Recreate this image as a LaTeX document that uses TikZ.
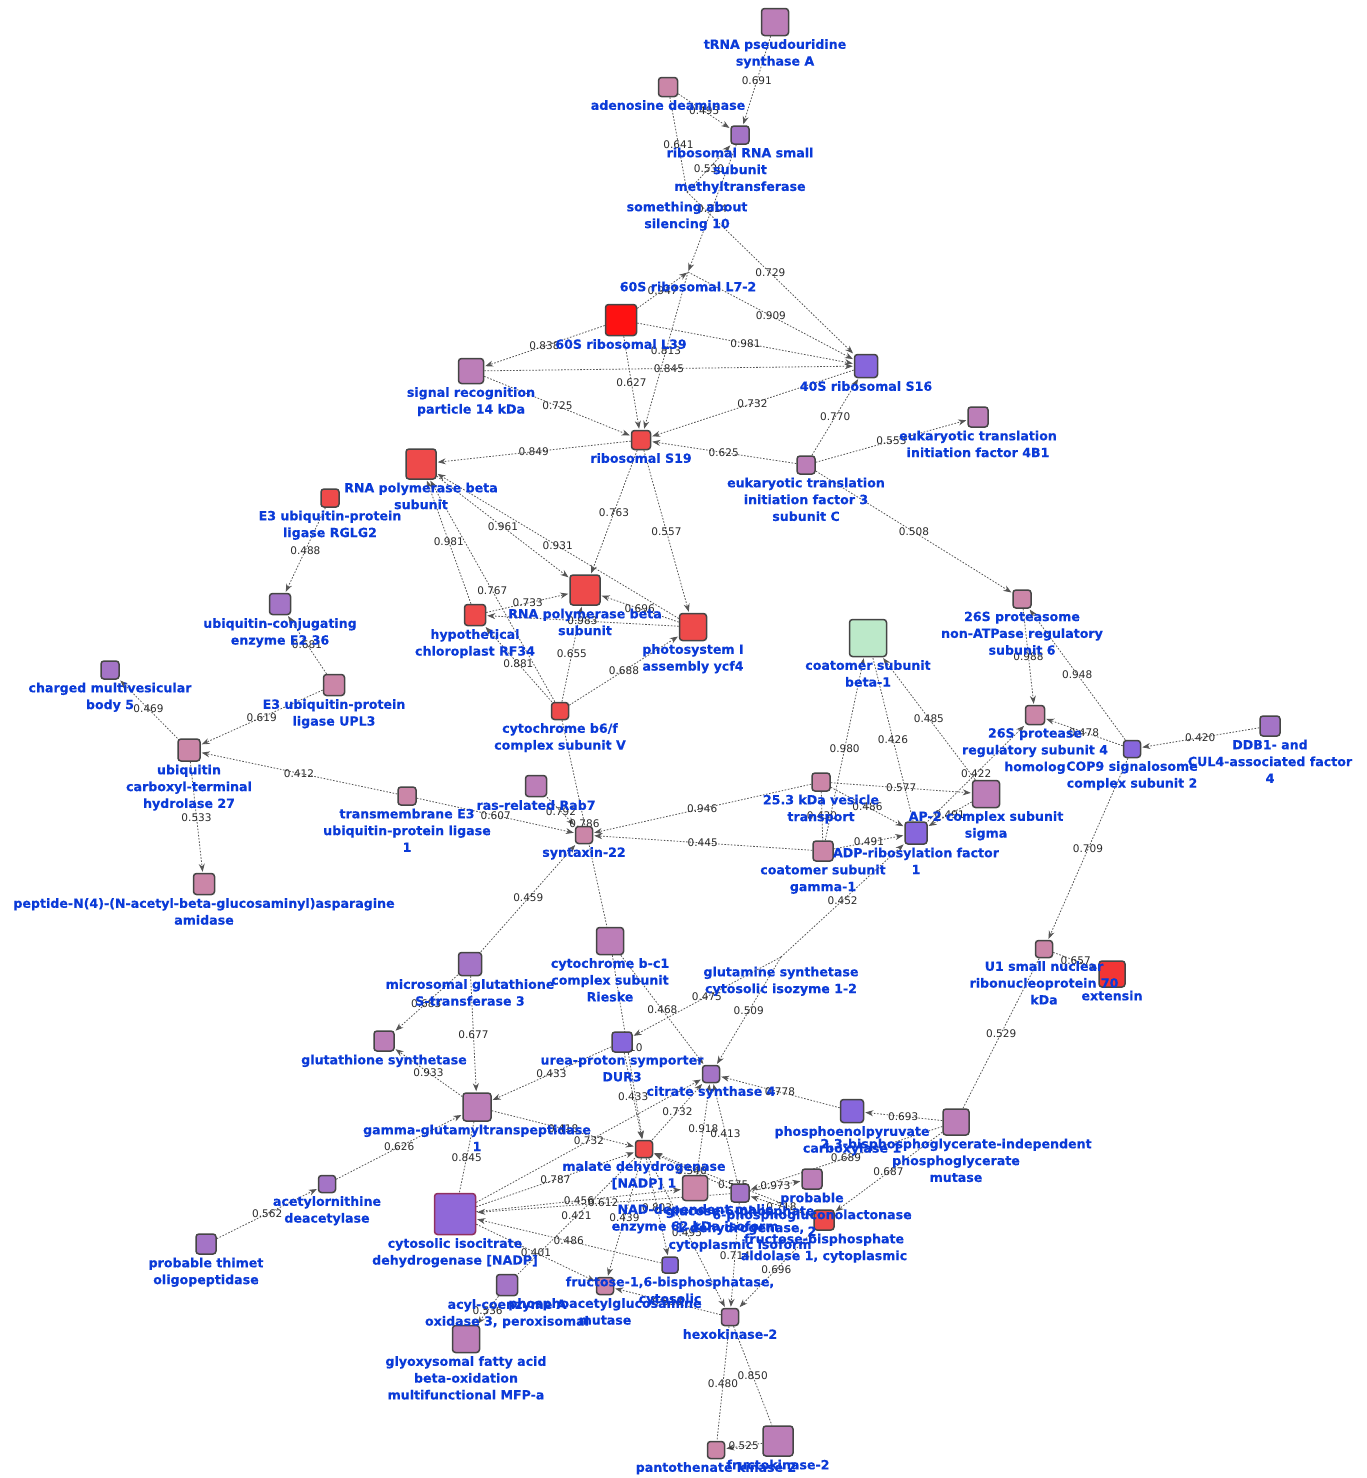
\documentclass[tikz,border=0pt]{standalone}
\usepackage{fontspec}
\setmainfont{DejaVu Sans}
\newfontfamily\labfont{DejaVu Sans}[BoldFeatures={FakeBold=0.35}]
\usetikzlibrary{arrows.meta}
\definecolor{nblue}{HTML}{0A3AD8}
\definecolor{elabc}{HTML}{2A2A2A}
\definecolor{edgec}{HTML}{555555}
\definecolor{bordc}{HTML}{454545}
\definecolor{mauve}{HTML}{BC7EB8}
\definecolor{pink}{HTML}{CB86A8}
\definecolor{purple}{HTML}{A474C6}
\definecolor{violet}{HTML}{8766DC}
\definecolor{violetb}{HTML}{9068D8}
\definecolor{icbord}{HTML}{903060}
\definecolor{red}{HTML}{EE4A4A}
\definecolor{bred}{HTML}{FF1111}
\definecolor{exred}{HTML}{F23535}
\definecolor{green}{HTML}{BCE9C9}
\pgfdeclarelayer{bgfill}
\pgfdeclarelayer{edges}
\pgfdeclarelayer{labels}
\pgfsetlayers{bgfill,edges,main,labels}
\tikzset{
 box/.style={rectangle, draw=bordc, line width=1.5pt, rounded corners=3pt, inner sep=0pt, minimum size=#1},
 nlab/.style={text=nblue, font=\labfont\bfseries\fontsize{12.6}{16.8}\selectfont, align=center, inner sep=0pt, anchor=north},
 elab/.style={text=elabc, font=\fontsize{10.5}{12}\selectfont, inner sep=0pt, midway},
 con/.style={draw=edgec, line width=0.8pt, dash pattern=on 1.6pt off 1.6pt},
 arr/.style={con, -{Stealth[length=8pt,width=6pt]}, shorten >=1pt},
}
\newcommand\Nd[6]{%
 \node[box=#4pt, #5] (#1) at (#2,#3) {};%
 \begin{pgfonlayer}{labels}\node[nlab] (#1l) at (#2,{#3+#4/2+3.5}) {#6};\end{pgfonlayer}}
\newcommand\Nh[4]{%
 \coordinate (#1) at (#2,#3);%
 \begin{pgfonlayer}{labels}\node[nlab] (#1l) at (#2,{#3+9.5}) {#4};\end{pgfonlayer}}
\newcommand\E[3]{\draw[arr] (#1) -- node[elab]{#3} (#2);}
\newcommand\U[3]{\draw[con] (#1) -- node[elab]{#3} (#2);}
\begin{document}
\begin{tikzpicture}[x=1pt,y=-1pt]
\begin{pgfonlayer}{bgfill}
\path[use as bounding box, fill=white] (0,0) rectangle (1366,1478);
\end{pgfonlayer}
\Nd{trna}{775}{22}{27}{fill=mauve}{tRNA pseudouridine\\synthase A}
\Nd{aden}{668}{87}{19}{fill=pink}{adenosine deaminase}
\Nd{methyl}{740}{135}{18}{fill=purple}{ribosomal RNA small\\subunit\\methyltransferase}
\Nh{silen}{687}{192}{something about\\silencing 10}
\Nh{lsev}{688}{272}{60S ribosomal L7-2}
\Nd{lnine}{621}{320}{31}{fill=bred}{60S ribosomal L39}
\Nd{srp}{471}{371}{25}{fill=mauve}{signal recognition\\particle 14 kDa}
\Nd{ssix}{866}{366}{23}{fill=violet}{40S ribosomal S16}
\Nd{snine}{641}{440}{19}{fill=red}{ribosomal S19}
\Nd{polA}{421}{464}{30}{fill=red}{RNA polymerase beta\\subunit}
\Nd{rglg}{330}{498}{18}{fill=red}{E3 ubiquitin-protein\\ligase RGLG2}
\Nd{etwo}{280}{604}{21}{fill=purple}{ubiquitin-conjugating\\enzyme E2 36}
\Nd{upl}{334}{685}{21}{fill=pink}{E3 ubiquitin-protein\\ligase UPL3}
\Nd{cmb}{110}{670}{18}{fill=purple}{charged multivesicular\\body 5}
\Nd{uch}{189}{750}{22}{fill=pink}{ubiquitin\\carboxyl-terminal\\hydrolase 27}
\Nd{pepn}{204}{884}{21}{fill=pink}{peptide-N(4)-(N-acetyl-beta-glucosaminyl)asparagine\\amidase}
\Nd{tme}{407}{796}{18}{fill=pink}{transmembrane E3\\ubiquitin-protein ligase\\1}
\Nd{rfx}{475}{615}{21}{fill=red}{hypothetical\\chloroplast RF34}
\Nd{polB}{585}{590}{30}{fill=red}{RNA polymerase beta\\subunit}
\Nd{psi}{693}{627}{27}{fill=red}{photosystem I\\assembly ycf4}
\Nd{bsf}{560}{711}{17}{fill=red}{cytochrome b6/f\\complex subunit V}
\Nd{eifc}{806}{465}{18}{fill=mauve}{eukaryotic translation\\initiation factor 3\\subunit C}
\Nd{eifb}{978}{417}{20}{fill=mauve}{eukaryotic translation\\initiation factor 4B1}
\Nd{psix}{1022}{599}{18}{fill=pink}{26S proteasome\\non-ATPase regulatory\\subunit 6}
\Nd{copb}{868}{638}{37}{fill=green}{coatomer subunit\\beta-1}
\Nd{pfour}{1035}{715}{19}{fill=pink}{26S protease\\regulatory subunit 4\\homolog}
\Nd{cop}{1132}{749}{17}{fill=violet}{COP9 signalosome\\complex subunit 2}
\Nd{ddb}{1270}{726}{20}{fill=purple}{DDB1- and\\CUL4-associated factor\\4}
\Nd{ves}{821}{782}{18}{fill=pink}{25.3 kDa vesicle\\transport}
\Nd{aptwo}{986}{794}{27}{fill=mauve}{AP-2 complex subunit\\sigma}
\Nd{arf}{916}{833}{22}{fill=violet}{ADP-ribosylation factor\\1}
\Nd{copg}{823}{851}{20}{fill=pink}{coatomer subunit\\gamma-1}
\Nd{uone}{1044}{949}{17}{fill=pink}{U1 small nuclear\\ribonucleoprotein 70\\kDa}
\Nd{ext}{1112}{974}{26}{fill=exred}{extensin}
\Nd{rab}{536}{786}{21}{fill=mauve}{ras-related Rab7}
\Nd{stx}{584}{835}{17}{fill=pink}{syntaxin-22}
\Nd{mgst}{470}{964}{23}{fill=purple}{microsomal glutathione\\S-transferase 3}
\Nd{rsk}{610}{941}{27}{fill=mauve}{cytochrome b-c1\\complex subunit\\Rieske}
\Nh{gsyn}{781}{957}{glutamine synthetase\\cytosolic isozyme 1-2}
\Nd{gshs}{384}{1041}{20}{fill=mauve}{glutathione synthetase}
\Nd{ggt}{477}{1107}{28}{fill=mauve}{gamma-glutamyltranspeptidase\\1}
\Nd{urea}{622}{1042}{20}{fill=violet}{urea-proton symporter\\DUR3}
\Nd{csf}{711}{1074}{17}{fill=purple}{citrate synthase 4}
\Nd{mdh}{644}{1149}{17}{fill=red}{malate dehydrogenase\\{}[NADP] 1}
\Nd{aod}{327}{1184}{17}{fill=purple}{acetylornithine\\deacetylase}
\Nd{thim}{206}{1244}{20}{fill=purple}{probable thimet\\oligopeptidase}
\Nd{icdh}{455}{1214}{41}{fill=violetb,draw=icbord}{cytosolic isocitrate\\dehydrogenase [NADP]}
\Nd{nadme}{695}{1188}{25}{fill=pink}{NAD-dependent malic\\enzyme 62 kDa isoform}
\Nd{pgl}{812}{1179}{20}{fill=mauve}{probable\\6-phosphogluconolactonase\\2}
\Nd{gsix}{740}{1193}{18}{fill=purple}{glucose-6-phosphate\\1-dehydrogenase,\\cytoplasmic isoform}
\Nd{ald}{824}{1220}{20}{fill=red}{fructose-bisphosphate\\aldolase 1, cytoplasmic}
\Nd{pepc}{852}{1111}{23}{fill=violet}{phosphoenolpyruvate\\carboxylase 1}
\Nd{pgm}{956}{1122}{26}{fill=mauve}{2,3-bisphosphoglycerate-independent\\phosphoglycerate\\mutase}
\Nd{fbp}{670}{1265}{16}{fill=violet}{fructose-1,6-bisphosphatase,\\cytosolic}
\Nd{pagm}{605}{1286}{17}{fill=pink}{phosphoacetylglucosamine\\mutase}
\Nd{acox}{507}{1285}{21}{fill=purple}{acyl-coenzyme A\\oxidase 3, peroxisomal}
\Nd{mfp}{466}{1339}{27}{fill=mauve}{glyoxysomal fatty acid\\beta-oxidation\\multifunctional MFP-a}
\Nd{hxk}{730}{1317}{17}{fill=mauve}{hexokinase-2}
\Nd{pank}{716}{1450}{17}{fill=pink}{pantothenate kinase 2}
\Nd{frk}{778}{1441}{30}{fill=mauve}{fructokinase-2}
\begin{pgfonlayer}{edges}
\E{trna}{methyl}{0.691}
\E{aden}{methyl}{0.495}
\U{aden}{silen}{0.641}
\E{silen}{methyl}{0.530}
\E{methyl}{lsev}{0.614}
\E{silen}{ssix}{0.729}
\E{lnine}{lsev}{0.947}
\E{lsev}{ssix}{0.909}
\E{lnine}{ssix}{0.981}
\E{lnine}{srp}{0.838}
\E{lsev}{snine}{0.813}
\E{srp}{ssix}{0.845}
\E{lnine}{snine}{0.627}
\E{srp}{snine}{0.725}
\E{ssix}{snine}{0.732}
\E{eifc}{ssix}{0.770}
\E{eifc}{eifb}{0.553}
\E{eifc}{snine}{0.625}
\E{snine}{polA}{0.849}
\E{eifc}{psix}{0.508}
\E{snine}{polB}{0.763}
\E{snine}{psi}{0.557}
\E{polA}{polB}{0.961}
\E{psi}{polA}{0.931}
\E{rfx}{polA}{0.981}
\E{bsf}{polA}{0.767}
\E{rfx}{polB}{0.733}
\E{psi}{polB}{0.696}
\E{psi}{rfx}{0.983}
\E{bsf}{rfx}{0.881}
\E{bsf}{polB}{0.655}
\E{bsf}{psi}{0.688}
\E{rglg}{etwo}{0.488}
\E{upl}{etwo}{0.681}
\E{uch}{cmb}{0.469}
\E{upl}{uch}{0.619}
\E{tme}{uch}{0.412}
\E{uch}{pepn}{0.533}
\E{tme}{stx}{0.607}
\E{rab}{stx}{0.792}
\U{bsf}{rsk}{0.786}
\E{ves}{stx}{0.946}
\E{copg}{stx}{0.445}
\E{copg}{copb}{0.980}
\U{arf}{copb}{0.426}
\E{aptwo}{copb}{0.485}
\E{ves}{aptwo}{0.577}
\E{ves}{arf}{0.486}
\U{ves}{copg}{0.430}
\E{copg}{arf}{0.491}
\E{aptwo}{arf}{0.491}
\E{arf}{pfour}{0.422}
\E{psix}{pfour}{0.988}
\E{cop}{psix}{0.948}
\E{cop}{pfour}{0.478}
\E{ddb}{cop}{0.420}
\E{cop}{uone}{0.709}
\E{uone}{ext}{0.657}
\U{pgm}{uone}{0.529}
\E{mgst}{stx}{0.459}
\E{gsyn}{arf}{0.452}
\E{rsk}{csf}{0.468}
\E{gsyn}{urea}{0.475}
\E{gsyn}{csf}{0.509}
\E{mgst}{gshs}{0.683}
\E{mgst}{ggt}{0.677}
\E{ggt}{gshs}{0.933}
\E{urea}{ggt}{0.433}
\E{rsk}{mdh}{0.410}
\E{urea}{mdh}{0.433}
\E{mdh}{csf}{0.732}
\E{icdh}{csf}{0.732}
\E{ggt}{mdh}{0.418}
\U{ggt}{icdh}{0.845}
\E{aod}{ggt}{0.626}
\E{thim}{aod}{0.562}
\E{nadme}{csf}{0.918}
\E{gsix}{csf}{0.413}
\E{pepc}{csf}{0.778}
\E{pgm}{pepc}{0.693}
\E{pgm}{gsix}{0.689}
\E{pgm}{ald}{0.687}
\E{gsix}{pgl}{0.973}
\E{gsix}{mdh}{0.540}
\E{ald}{mdh}{0.575}
\E{ald}{gsix}{0.718}
\E{icdh}{mdh}{0.787}
\E{icdh}{nadme}{0.456}
\E{gsix}{icdh}{0.612}
\U{mdh}{acox}{0.421}
\E{icdh}{pagm}{0.401}
\E{fbp}{icdh}{0.486}
\E{mdh}{pagm}{0.439}
\E{mdh}{fbp}{0.803}
\E{mdh}{hxk}{0.495}
\E{gsix}{hxk}{0.714}
\E{ald}{hxk}{0.696}
\E{hxk}{pagm}{0.514}
\U{hxk}{pank}{0.480}
\U{hxk}{frk}{0.850}
\E{frk}{pank}{0.525}
\E{acox}{mfp}{0.536}
\end{pgfonlayer}
\end{tikzpicture}
\end{document}
